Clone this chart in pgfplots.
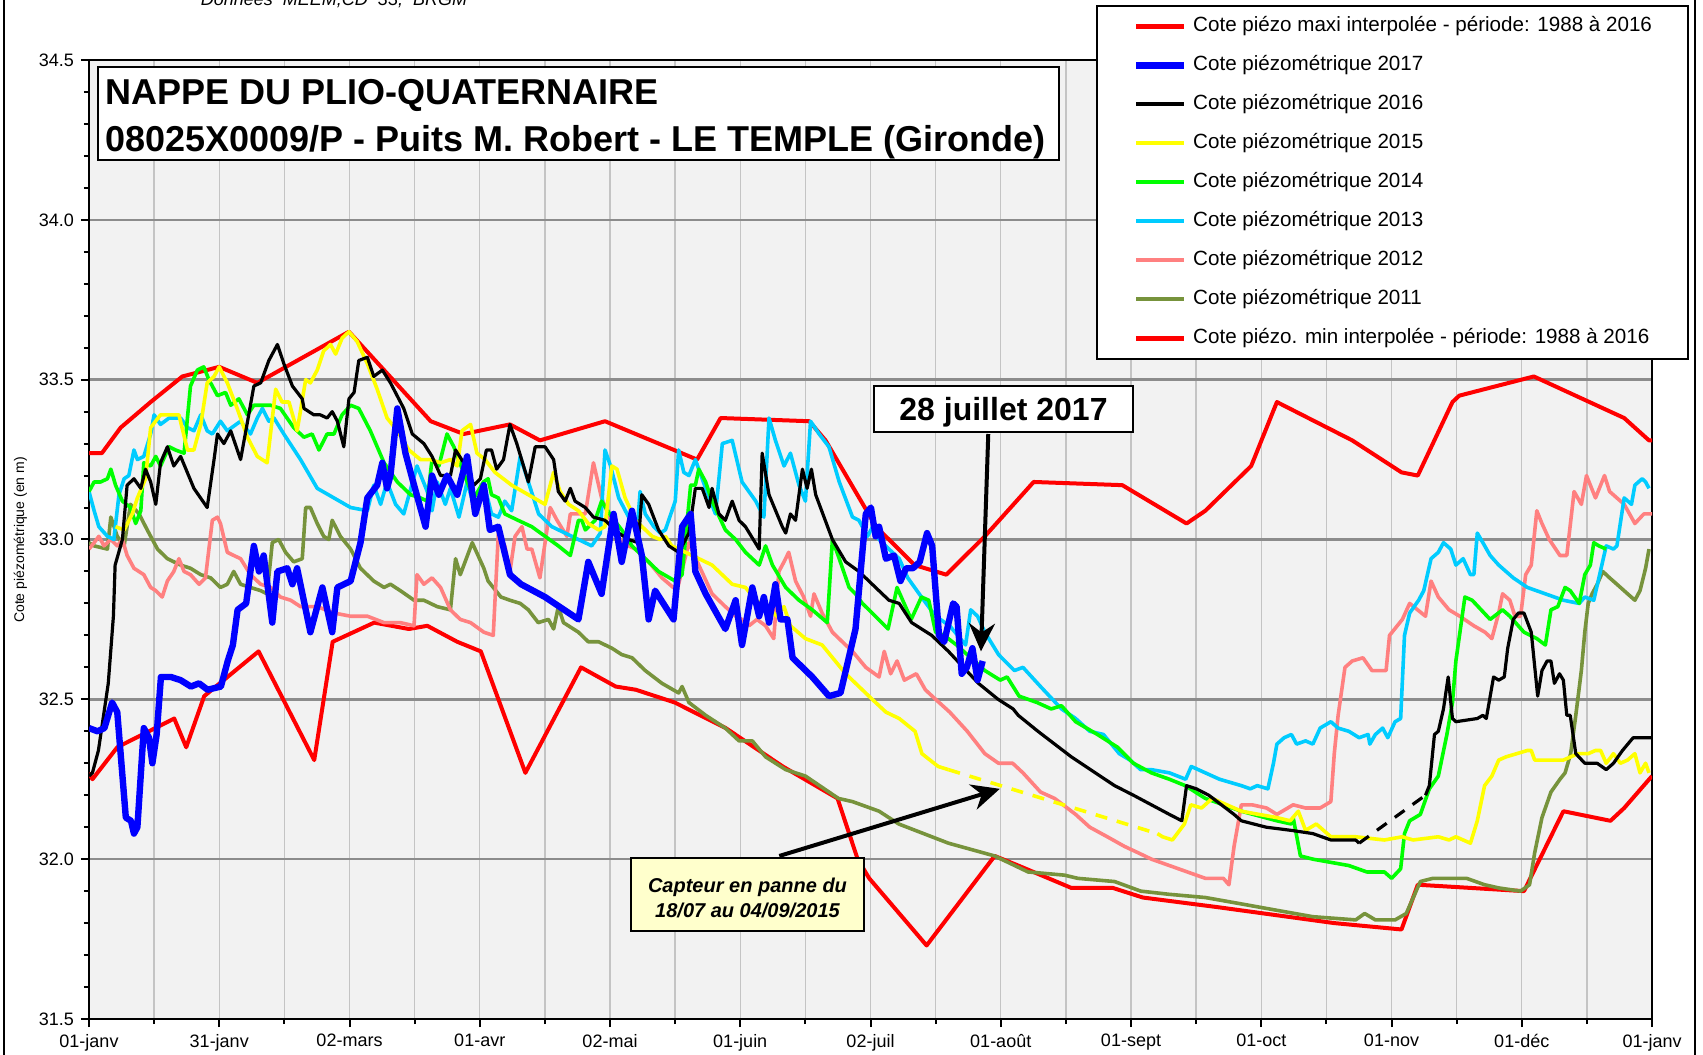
\documentclass[border=0pt]{standalone}
\usepackage{fontspec}
\setmainfont{Liberation Sans}
\usepackage{pgfplots}
\pgfplotsset{compat=1.18}
\usetikzlibrary{arrows.meta}

\definecolor{plotbg}{HTML}{F2F2F2}
\definecolor{hgrid}{HTML}{8C8C8C}
\definecolor{vgrid}{HTML}{C4C4C4}
\definecolor{c2017}{HTML}{0000FF}
\definecolor{c2015}{HTML}{FFFF00}
\definecolor{c2014}{HTML}{00FF00}
\definecolor{c2013}{HTML}{00CCFF}
\definecolor{c2012}{HTML}{FF8080}
\definecolor{c2011}{HTML}{77933C}
\definecolor{notebg}{HTML}{FFFFCC}

\begin{document}
\begin{tikzpicture}
\useasboundingbox (0,0) rectangle (851.5pt,527.5pt);
\begin{axis}[
  at={(44.5pt,18pt)}, anchor=south west,
  scale only axis, width=781.5pt, height=479.5pt,
  xmin=0, xmax=365, ymin=31.5, ymax=34.5,
  axis background/.style={fill=plotbg},
  axis line style={line width=1.3pt},
  xtick={0,30.4167,60.8333,91.25,121.6667,152.0833,182.5,212.9167,243.3333,273.75,304.1667,334.5833,365},
  xticklabels={01-janv,31-janv,02-mars,01-avr,02-mai,01-juin,02-juil,01-août,01-sept,01-oct,01-nov,01-déc,01-janv},
  minor xtick={0,15.2083,30.4167,45.625,60.8333,76.0417,91.25,106.4583,121.6667,136.875,152.0833,167.2917,182.5,197.7083,212.9167,228.125,243.3333,258.5417,273.75,288.9583,304.1667,319.375,334.5833,349.7917,365},
  ytick={31.5,32,32.5,33,33.5,34,34.5},
  minor y tick num=4,
  xminorgrids, ymajorgrids,
  minor grid style={vgrid, line width=0.7pt},
  major grid style={hgrid, line width=1.2pt},
  tick pos=left, tick align=outside,
  major tick length=4pt, minor tick length=2.5pt,
  tick style={black, line width=1pt},
  yticklabel style={/pgf/number format/.cd, fixed, fixed zerofill, precision=1},
  /pgf/number format/assume math mode=true,
  tick label style={font=\fontsize{9}{10}\selectfont},
  no markers,
  every axis plot/.append style={line join=round},
  legend image code/.code={\draw[#1] (0pt,0pt) -- (24pt,0pt);},
  legend cell align=left,
  legend style={at={(1.0237,1.0574)}, anchor=north east, draw=black, line width=1pt,
    fill=white, font=\fontsize{10.3}{12}\selectfont, inner xsep=18pt, inner ysep=5pt,
    row sep=9pt, column sep=3pt,
    nodes={inner sep=0pt, text height=8pt, text depth=2.5pt}},
]
\addlegendimage{red, line width=2.2pt}
\addlegendentry{Cote piézo maxi interpolée - période: 1988 à 2016}
\addlegendimage{c2017, line width=3.2pt}
\addlegendentry{Cote piézométrique 2017}
\addlegendimage{black, line width=2pt}
\addlegendentry{Cote piézométrique 2016}
\addlegendimage{c2015, line width=2pt}
\addlegendentry{Cote piézométrique 2015}
\addlegendimage{c2014, line width=2pt}
\addlegendentry{Cote piézométrique 2014}
\addlegendimage{c2013, line width=2pt}
\addlegendentry{Cote piézométrique 2013}
\addlegendimage{c2012, line width=2pt}
\addlegendentry{Cote piézométrique 2012}
\addlegendimage{c2011, line width=2pt}
\addlegendentry{Cote piézométrique 2011}
\addlegendimage{red, line width=2.2pt}
\addlegendentry{Cote piézo. min interpolée - période: 1988 à 2016}

% maxi interpolee
\addplot[red, line width=2pt, forget plot] coordinates {
(0,33.27)(3,33.27)(7.4,33.35)(14.4,33.43)(21.8,33.51)(30.4,33.54)(39.3,33.49)(50,33.57)(60.7,33.65)
(68.9,33.53)(79.8,33.37)(87.5,33.33)(98.3,33.36)(105.3,33.31)(120.5,33.37)(142,33.25)(147.5,33.38)
(168.2,33.37)(172,33.31)(183.8,33.04)(192.8,32.92)(200.2,32.89)(209.2,33.01)(220.6,33.18)(241.3,33.17)
(256.3,33.05)(260.7,33.09)(271.4,33.23)(277.4,33.43)(295,33.31)(306.5,33.21)(310.3,33.20)(318.4,33.43)
(320,33.45)(337.4,33.51)(358.5,33.38)(364.3,33.31)(365,33.31)};
% mini interpolee
\addplot[red, line width=2pt, forget plot] coordinates {
(0,32.27)(0.8,32.25)(6.6,32.35)(19.9,32.44)(22.7,32.35)(26.9,32.51)(39.6,32.65)(52.6,32.31)(56.9,32.68)
(66.6,32.74)(74.7,32.72)(79,32.73)(86,32.68)(91.5,32.65)(101.9,32.27)(114.9,32.60)(123,32.54)(127.7,32.53)
(136.8,32.49)(148.7,32.41)(162,32.29)(174.8,32.19)(179.5,32.0)(182.2,31.94)(195.6,31.73)(211.5,32.01)
(217,31.98)(229.4,31.91)(239.1,31.91)(246.1,31.88)(263.5,31.85)(290.8,31.80)(306.5,31.78)(310.3,31.92)
(335.1,31.90)(344.3,32.15)(355.3,32.12)(358.5,32.16)(365,32.26)};
% 2011
\addplot[c2011, line width=1.8pt, forget plot] coordinates {
(0,32.99)(1.2,32.98)(4.3,32.97)(5.1,33.07)(6.6,33.01)(8.2,32.98)(9.7,33.11)(11.7,33.08)(13.6,33.03)(16,32.97)
(18.3,32.94)(21.4,32.92)(23.7,32.91)(26.1,32.89)(28.4,32.88)(30.7,32.85)(32.3,32.86)(33.8,32.90)(35.4,32.86)
(37.7,32.85)(40.1,32.84)(41.6,32.83)(42.8,32.99)(44.3,33.0)(45.9,32.96)(47.8,32.93)(49.8,32.94)(50.6,33.10)
(51.7,33.10)(53.3,33.05)(54.8,33.01)(56,33.0)(56.8,33.06)(58.7,33.01)(61.1,32.97)(63.4,32.91)(66.5,32.87)
(68.9,32.85)(70.4,32.86)(72.7,32.84)(75.9,32.81)(78.2,32.81)(81.3,32.79)(84.4,32.78)(85.6,32.94)(86.7,32.89)
(89.5,32.99)(92.2,32.91)(93.2,32.87)(96.2,32.82)(98.3,32.81)(100.7,32.80)(102.6,32.78)(104.9,32.74)(107.3,32.75)
(108.5,32.72)(109.6,32.79)(110.8,32.74)(114.3,32.71)(116.6,32.68)(119,32.68)(122.1,32.66)(124.4,32.64)
(126.8,32.63)(129.9,32.59)(133.8,32.55)(137.7,32.52)(138.5,32.54)(140.1,32.49)(144,32.45)(148.6,32.41)
(151.8,32.37)(154.9,32.37)(158,32.32)(162.7,32.28)(167.3,32.26)(172.8,32.21)(175,32.19)(178.3,32.18)
(184.5,32.15)(189.1,32.11)(200.7,32.05)(211.5,32.01)(219.3,31.96)(227.8,31.95)(230.9,31.94)(239.5,31.93)
(245.6,31.90)(252.3,31.89)(260.7,31.88)(269.1,31.86)(277.4,31.84)(285.8,31.82)(295.8,31.81)(297.9,31.83)
(300.4,31.81)(305,31.81)(307.6,31.83)(310.9,31.93)(313.8,31.94)(321.7,31.94)(325.9,31.92)(329.2,31.91)
(334.3,31.90)(336.4,31.92)(337.6,32.02)(339.3,32.13)(341.4,32.21)(343.5,32.25)(344.7,32.27)(346,32.33)
(347.2,32.45)(348.5,32.59)(349.3,32.71)(350.1,32.80)(351,32.83)(352.2,32.86)(353.5,32.90)(355.1,32.88)
(356.8,32.86)(359.3,32.83)(361,32.81)(362.2,32.84)(363.5,32.91)(364.3,32.97)};
% 2012
\addplot[c2012, line width=1.8pt, forget plot] coordinates {
(0,32.97)(1.2,32.99)(2.3,33.01)(3.5,32.98)(5.1,33.0)(6.6,32.98)(7.8,33.0)(8.9,32.95)(10.5,32.91)(12.8,32.89)
(14.4,32.85)(15.6,32.84)(17.1,32.82)(18.3,32.87)(19.8,32.90)(21,32.94)(22.2,32.90)(23.7,32.89)(25.7,32.86)
(27.2,32.88)(28.8,33.06)(30,33.07)(30.7,33.05)(32.3,32.96)(33.8,32.95)(35.4,32.94)(37.7,32.89)(40.1,32.86)
(42.4,32.85)(44.7,32.82)(47.1,32.81)(49.4,32.79)(53.3,32.79)(57.2,32.77)(61.1,32.76)(65,32.76)(68.9,32.74)
(72.7,32.74)(75.9,32.73)(76.6,32.89)(78.2,32.86)(80.1,32.88)(82.1,32.85)(84.4,32.78)(86.7,32.75)(89.1,32.74)
(92.2,32.71)(94.4,32.70)(95.6,33.02)(97.1,32.98)(98.3,32.90)(99.5,33.01)(101.1,33.04)(102.3,32.97)(103.4,32.97)
(105.3,32.88)(107.7,33.10)(109.3,33.06)(111.6,33.01)(112.4,33.08)(114.3,33.08)(115.9,33.08)(117.8,33.24)
(119.7,33.13)(122.1,33.05)(124.4,32.99)(127.6,32.97)(130.7,32.93)(133.8,32.88)(137.3,32.84)(140.1,32.99)
(142.4,32.92)(145.5,32.83)(148.6,32.79)(151,32.76)(152.5,32.75)(154.1,32.73)(156,32.75)(158,32.73)
(159.9,32.69)(161.1,32.90)(162.3,32.93)(163.4,32.96)(165,32.87)(166.9,32.82)(168.5,32.76)(169.3,32.83)
(171.2,32.77)(173.6,32.71)(176.7,32.67)(178.3,32.65)(181.4,32.60)(184.5,32.57)(185.7,32.65)(187.2,32.58)
(188.7,32.62)(190.4,32.56)(193.2,32.58)(195.3,32.53)(197.7,32.50)(201,32.46)(205.1,32.40)(209.2,32.33)
(212.4,32.30)(215.7,32.30)(218.1,32.27)(222.2,32.21)(225.5,32.19)(230.4,32.14)(233.7,32.10)(237.8,32.07)
(241.8,32.04)(245,32.02)(248.1,32.0)(252.3,31.98)(256.5,31.96)(260.7,31.94)(264.9,31.94)(266.2,31.92)
(267.4,32.04)(269.1,32.17)(271.6,32.17)(275,32.16)(277.4,32.14)(281.2,32.17)(284.1,32.16)(287.5,32.16)
(290,32.18)(290.8,32.33)(291.7,32.45)(293.3,32.60)(295,32.62)(297.5,32.63)(299.6,32.59)(302.9,32.59)
(303.7,32.70)(306.7,32.75)(308.4,32.80)(312.1,32.76)(313.4,32.87)(315.1,32.82)(317.6,32.78)(320.1,32.76)
(323.4,32.73)(326,32.71)(327.6,32.69)(329.2,32.77)(330.1,32.83)(331.8,32.81)(333,32.76)(334.3,32.76)
(335.5,32.89)(336.8,32.92)(338.1,33.09)(339.3,33.05)(341,33.0)(343.5,32.95)(345.1,32.95)(346.8,33.15)
(348.5,33.11)(349.7,33.20)(351.8,33.13)(353.9,33.20)(355.1,33.15)(358.5,33.11)(361,33.05)(363.1,33.08)(365,33.08)};
% 2013
\addplot[c2013, line width=1.8pt, forget plot] coordinates {
(0,33.15)(1.2,33.09)(2.3,33.04)(4.3,33.01)(5.8,33.0)(7,33.14)(8.2,33.19)(9.3,33.20)(10.5,33.28)(11.3,33.25)
(12.8,33.26)(14.4,33.33)(15.2,33.39)(16.7,33.36)(18.7,33.38)(21.4,33.38)(23,33.35)(24.5,33.34)(26.1,33.39)
(27.6,33.34)(28.8,33.33)(30.7,33.37)(32.3,33.34)(35.4,33.37)(37.7,33.33)(39.3,33.38)(40.5,33.41)(42,33.37)
(43.2,33.38)(45.5,33.33)(49.4,33.25)(53.3,33.16)(57.2,33.13)(61.1,33.10)(65,33.09)(66.5,33.17)(68.1,33.11)
(69.6,33.18)(71.6,33.11)(73.5,33.08)(76.6,33.23)(79,33.15)(80.1,33.09)(81.3,33.18)(83.2,33.11)(84.4,33.16)
(86.4,33.07)(88.3,33.18)(90.2,33.09)(92.5,33.16)(94,33.08)(95.6,33.07)(97.1,33.12)(98.7,33.09)(100.7,33.26)
(102.6,33.18)(105,33.08)(108.1,33.04)(111.2,33.02)(114.3,33.0)(117.4,32.98)(119.4,33.02)(120.5,33.28)
(121.8,33.23)(123.7,33.13)(126.8,33.05)(128,33.03)(128.7,33.15)(129.9,33.08)(131.9,33.04)(133.4,33.02)
(134.6,33.03)(136.9,33.12)(137.7,33.28)(138.9,33.21)(140.1,33.20)(141.6,33.25)(144,33.16)(146.3,33.08)
(147.9,33.30)(150.2,33.31)(152.5,33.18)(155.7,33.12)(157.6,33.07)(158.8,33.38)(160.3,33.31)(162.3,33.23)
(163.8,33.27)(165.8,33.17)(167.3,33.12)(168.5,33.37)(170.5,33.33)(172.8,33.29)(175.2,33.18)(178.3,33.07)
(179.8,33.06)(181.8,33.01)(183,33.04)(184.5,33.0)(186.8,32.97)(189.2,32.94)(191.2,32.88)(194.4,32.82)
(197.7,32.76)(201,32.73)(204.7,32.67)(205.9,32.78)(207.5,32.76)(209.2,32.71)(212.4,32.64)(216.1,32.59)
(218.1,32.60)(222.2,32.54)(227.1,32.47)(230.4,32.44)(233.7,32.40)(236.9,32.39)(240.6,32.33)(243.1,32.31)
(245.6,32.28)(248.1,32.28)(252.3,32.27)(256.1,32.25)(257.4,32.29)(260.7,32.27)(264,32.25)(269.1,32.23)
(271.2,32.22)(272.8,32.23)(275.3,32.22)(276.6,32.30)(277.4,32.36)(279.1,32.38)(280.8,32.39)(282,32.36)
(284.1,32.37)(285.8,32.36)(287.5,32.41)(290,32.43)(291.7,32.41)(294.2,32.40)(296.6,32.38)(298.7,32.39)
(299.1,32.36)(300.4,32.39)(302.1,32.41)(303.3,32.38)(305,32.43)(306.3,32.44)(307.2,32.70)(308.4,32.77)
(310.5,32.81)(311.7,32.84)(313.4,32.94)(315.1,32.96)(316.3,32.99)(318,32.97)(319.2,32.92)(320.9,32.94)
(322.6,32.89)(323.4,32.89)(324.2,33.02)(325.5,32.99)(327.2,32.95)(329.2,32.92)(332.6,32.88)(335.9,32.85)
(340.1,32.83)(344.3,32.81)(348,32.80)(349.3,32.82)(351.4,32.81)(352.6,32.88)(354.3,32.98)(356,32.97)
(356.8,32.98)(358.5,33.13)(360.2,33.11)(361,33.17)(362.7,33.19)(363.5,33.18)(364.3,33.16)};
% 2014
\addplot[c2014, line width=1.8pt, forget plot] coordinates {
(0,33.15)(1.2,33.18)(2.7,33.18)(4.3,33.19)(5.1,33.22)(6.2,33.17)(7.8,33.12)(9.7,33.10)(10.9,33.05)(12.1,33.09)
(12.8,33.24)(14.4,33.23)(15.6,33.26)(16.7,33.23)(18.7,33.29)(20.2,33.28)(22.2,33.27)(23.7,33.48)(25.3,33.53)
(26.8,33.54)(28,33.50)(30,33.45)(31.9,33.46)(33.1,33.42)(35,33.44)(37,33.39)(38.5,33.42)(40.1,33.42)
(42.4,33.42)(44.7,33.41)(47.8,33.35)(50.2,33.32)(52.1,33.33)(53.7,33.28)(55.6,33.33)(57.2,33.33)(59.1,33.39)
(61.1,33.42)(63,33.41)(65.7,33.34)(68.9,33.24)(72,33.18)(75.1,33.14)(77.4,33.13)(79,33.12)(80.1,33.25)
(81.7,33.23)(83.6,33.33)(85.2,33.29)(88.3,33.18)(89.9,33.13)(92.1,33.18)(93.2,33.19)(94,33.14)(95.6,33.13)
(97.1,33.08)(100.2,33.06)(103.4,33.04)(106.5,33.01)(109.6,32.98)(112.4,32.95)(114.3,33.06)(115.1,33.06)
(115.9,33.03)(118.2,33.06)(119.7,33.12)(122.1,33.07)(124.4,33.03)(126.8,32.98)(129.9,32.94)(133,32.90)
(136.9,32.87)(138.5,32.89)(139.7,33.06)(140.5,33.17)(141.6,33.17)(142.4,33.22)(144,33.18)(145.5,33.12)
(148.6,33.03)(151,33.0)(153.3,32.96)(156.5,32.92)(158,32.98)(159.6,32.92)(162.7,32.85)(165.8,32.81)
(168.9,32.78)(172.4,32.74)(173.6,33.0)(175.2,32.94)(177.5,32.85)(179,32.83)(180.6,32.80)(182.9,32.77)
(186.6,32.72)(188.7,32.85)(192,32.75)(194.4,32.82)(196.1,32.81)(197.7,32.71)(199.7,32.70)(202.6,32.67)
(205.9,32.63)(209.2,32.59)(212.8,32.56)(214.4,32.57)(217.2,32.51)(221.4,32.49)(224.7,32.47)(227.1,32.48)
(230.4,32.43)(235.5,32.39)(240.2,32.35)(243.9,32.30)(248.1,32.27)(252.3,32.25)(256,32.23)(260.7,32.19)
(269.1,32.15)(277.4,32.12)(280.8,32.11)(281.2,32.13)(282.9,32.01)(285.8,32.0)(290,31.99)(294.2,31.98)
(298.4,31.96)(302.5,31.96)(304.2,31.94)(306.3,31.97)(307.2,32.08)(308.4,32.12)(310.9,32.14)(313,32.22)
(315.1,32.26)(317.1,32.39)(318.4,32.49)(319.2,32.62)(321.3,32.82)(323,32.81)(327.2,32.75)(330.1,32.78)
(331.8,32.76)(335.1,32.71)(338.1,32.69)(340.1,32.67)(341.4,32.78)(343,32.79)(344.7,32.85)(345.9,32.84)
(348,32.80)(349.3,32.89)(350.6,32.92)(351.4,32.99)(352.6,32.98)(354.3,32.97)};
% 2015
\addplot[c2015, line width=1.8pt, forget plot] coordinates {
(6.2,33.04)(8.2,33.03)(10.1,33.08)(11.3,33.13)(13.2,33.19)(14.4,33.35)(16.7,33.39)(19.1,33.39)(21,33.39)
(23,33.28)(24.5,33.28)(26.1,33.36)(27.6,33.49)(29.2,33.51)(30.4,33.54)(32.3,33.49)(34.6,33.41)(37,33.32)
(39.3,33.26)(41.6,33.24)(43.6,33.47)(45.1,33.43)(46.7,33.43)(48.6,33.34)(50.6,33.50)(51.7,33.49)(53.3,33.53)
(54.8,33.59)(56.4,33.61)(57.6,33.58)(59.1,33.63)(60.7,33.65)(62.6,33.62)(65,33.55)(67.3,33.47)(69.6,33.38)
(72,33.34)(74.7,33.28)(77.4,33.25)(79.7,33.25)(82.1,33.24)(84.4,33.25)(86,33.23)(87.1,33.34)(89.1,33.36)
(90.6,33.27)(92.5,33.25)(94.8,33.21)(98.7,33.17)(102.6,33.14)(106.5,33.11)(108.5,33.21)(110,33.15)(112,33.11)
(114.3,33.09)(116.6,33.05)(119,33.03)(120.5,33.04)(122.1,33.23)(123.3,33.22)(125.2,33.13)(127.6,33.06)
(131.5,33.01)(133.4,33.0)(134.6,33.01)(136.1,32.98)(139.3,32.96)(142.4,32.94)(145.5,32.92)(150.2,32.86)
(153.3,32.85)(155.7,32.81)(158,32.79)(160.7,32.76)(162.3,32.79)(163.8,32.73)(167.3,32.69)(171.2,32.67)
(176.7,32.58)(179.8,32.54)(182.9,32.50)(186.1,32.46)(189.2,32.44)(192.9,32.40)(194.5,32.33)(198.3,32.29)(200.7,32.28)};
\addplot[c2015, line width=1.8pt, dash pattern=on 6pt off 5pt, forget plot] coordinates {
(200.7,32.28)(249.5,32.08)};
\addplot[c2015, line width=1.8pt, forget plot] coordinates {
(249.5,32.08)(250.7,32.07)(253,32.06)(255.8,32.11)(257.3,32.17)(259.8,32.16)(262.3,32.19)(265.7,32.17)
(269.1,32.15)(273.2,32.14)(277.4,32.13)(280.5,32.12)(282.4,32.15)(284.1,32.09)(286.6,32.11)(290,32.07)
(295.8,32.07)(302.5,32.06)(306.7,32.07)(309.2,32.06)(315.1,32.07)(317.6,32.06)(319.2,32.07)(322.6,32.05)
(324.2,32.12)(325.9,32.23)(327.6,32.26)(329.2,32.31)(330.9,32.32)(333.4,32.33)(335.9,32.34)(336.8,32.34)
(337.6,32.31)(341,32.31)(344.3,32.31)(347.7,32.33)(350.1,32.33)(351.8,32.34)(353,32.34)(354.3,32.30)
(356,32.33)(357.6,32.30)(359.3,32.31)(361,32.33)(362.2,32.27)(363.5,32.30)(364.3,32.27)};
% 2016
\addplot[black, line width=1.6pt, forget plot] coordinates {
(0,32.26)(0.8,32.27)(2.2,32.34)(4.5,32.55)(5.7,32.76)(6.1,32.92)(7.8,33.0)(8.9,33.17)(10.5,33.19)(12.1,33.16)
(13.2,33.22)(14.4,33.18)(15.6,33.11)(16.7,33.24)(18.3,33.29)(19.8,33.23)(21.4,33.26)(24.5,33.16)(27.6,33.10)
(29.2,33.25)(30,33.33)(31.5,33.30)(33.1,33.34)(35.4,33.25)(36.9,33.36)(38.5,33.48)(40.1,33.49)(42,33.56)
(44,33.61)(45.5,33.55)(47.5,33.48)(49.8,33.44)(50.2,33.41)(52.5,33.39)(54,33.39)(55.6,33.38)(56.8,33.40)
(58,33.37)(59.5,33.29)(60.7,33.44)(61.9,33.46)(63,33.56)(65,33.57)(66.5,33.51)(68.5,33.53)(70.4,33.49)
(73.5,33.41)(75.5,33.33)(78.2,33.30)(80.1,33.26)(82.1,33.20)(84.4,33.20)(85.6,33.28)(87.5,33.24)(89.9,33.17)
(91.4,33.19)(92.8,33.28)(94,33.28)(95.2,33.22)(96.8,33.25)(98.3,33.36)(99.9,33.30)(102.6,33.18)(104.2,33.29)
(106.5,33.29)(108.5,33.25)(109.6,33.15)(111.2,33.12)(112.4,33.16)(113.5,33.12)(115.9,33.10)(117.8,33.07)
(120.5,33.06)(123.7,33.02)(126,33.0)(128.3,32.99)(129.1,33.14)(130.7,33.11)(133,33.03)(135.4,32.98)
(137.7,32.96)(140.1,33.02)(141.6,33.16)(143.2,33.16)(144.8,33.10)(145.5,33.16)(147.1,33.08)(148.6,33.06)
(150.2,33.12)(151.8,33.06)(153.3,33.04)(156.5,32.97)(157.2,33.27)(158.8,33.14)(161.9,33.04)(162.7,33.02)
(163.8,33.08)(165,33.06)(166.6,33.22)(167.7,33.16)(168.7,33.22)(169.7,33.14)(173.6,33.0)(176.7,32.93)
(179.8,32.90)(182.9,32.86)(186.8,32.81)(189.2,32.80)(192.1,32.74)(196.8,32.70)(200.7,32.65)(207.7,32.55)
(212.3,32.50)(215.8,32.47)(217,32.45)(221.6,32.40)(229.4,32.32)(239.5,32.23)(243.9,32.20)(248.1,32.17)
(252.3,32.14)(255.2,32.12)(256.3,32.23)(258.6,32.22)(261.5,32.20)(267.4,32.14)(269.1,32.12)(274.9,32.10)
(280.8,32.09)(285.8,32.08)(290,32.06)(295.8,32.06)(296.6,32.05)};
\addplot[black, line width=1.6pt, dash pattern=on 6pt off 5pt, forget plot] coordinates {
(296.6,32.05)(312.1,32.20)};
\addplot[black, line width=1.6pt, forget plot] coordinates {
(312.1,32.20)(313,32.23)(314.2,32.39)(315.1,32.40)(316.3,32.47)(317.4,32.57)(318.4,32.44)(319.2,32.43)
(324.2,32.44)(325.5,32.45)(326.3,32.44)(328,32.57)(329.2,32.56)(330.5,32.57)(331.3,32.66)(332.6,32.75)
(333.8,32.77)(335.1,32.77)(336.8,32.71)(338.3,32.51)(339.3,32.59)(340.5,32.62)(341.4,32.62)(342.2,32.55)
(343.4,32.58)(344.3,32.56)(345.1,32.45)(345.9,32.45)(347.2,32.33)(349.3,32.30)(352.2,32.30)(354.3,32.28)
(356,32.30)(358.1,32.34)(360.6,32.38)(365,32.38)};
% 2017
\addplot[c2017, line width=3.2pt, forget plot] coordinates {
(0,32.41)(2,32.40)(3.6,32.41)(5.4,32.49)(6.6,32.46)(8.6,32.13)(9.8,32.12)(10.5,32.08)(11.3,32.10)(12.8,32.41)
(14.0,32.38)(14.8,32.30)(15.8,32.39)(16.8,32.57)(19.1,32.57)(21.4,32.56)(23.8,32.54)(25.7,32.55)(27.7,32.53)
(30.8,32.54)(32.4,32.62)(33.6,32.67)(34.7,32.78)(36.7,32.80)(38.5,32.98)(39.7,32.90)(40.8,32.95)(42.8,32.74)
(44,32.90)(46.3,32.91)(47.5,32.86)(48.6,32.91)(51.7,32.71)(54.5,32.85)(56.8,32.71)(58,32.85)(61.1,32.87)
(63.4,32.99)(65,33.13)(67.3,33.17)(68.5,33.24)(69.6,33.16)(70.4,33.20)(72,33.41)(73.9,33.27)(75.5,33.19)
(78.6,33.04)(80.1,33.20)(81.7,33.14)(83.6,33.20)(86,33.14)(88.3,33.26)(90.2,33.08)(92.2,33.17)(93.6,33.03)
(95.6,33.04)(98.3,32.89)(100.9,32.86)(106.5,32.82)(114.3,32.75)(116.6,32.93)(119.7,32.83)(122.5,33.08)
(124.4,32.93)(126.8,33.09)(129.1,32.95)(130.7,32.75)(132.2,32.84)(136.5,32.75)(138.5,33.04)(140.5,33.08)
(141.6,32.90)(144,32.83)(148.6,32.72)(151,32.81)(152.5,32.67)(154.9,32.85)(156.5,32.76)(157.6,32.82)
(158.8,32.74)(160.3,32.86)(161.5,32.75)(163.1,32.75)(164.3,32.63)(168.9,32.57)(172.8,32.51)(175.5,32.52)
(179,32.72)(181.4,33.08)(182.6,33.10)(183.7,33.01)(184.5,33.04)(186.1,32.94)(188,32.95)(189.5,32.87)
(190.8,32.91)(192.4,32.91)(194,32.93)(195.7,33.02)(196.9,32.98)(198.5,32.70)(199.7,32.68)(201.8,32.80)
(202.6,32.79)(203.8,32.58)(205,32.60)(206.3,32.66)(207.5,32.56)(208.7,32.62)};

\draw[line width=2pt, -{Stealth[length=14pt,width=13pt]}] (axis cs:210,33.33) -- (axis cs:208.3,32.65);
\draw[line width=2pt, -{Stealth[length=14pt,width=13pt]}] (axis cs:161.2,32.01) -- (axis cs:212.7,32.22);
\end{axis}

\begin{scope}[x=0.5pt, y=-0.5pt, yshift=527.5pt]
\draw[line width=0.8pt] (4,-20) -- (4,1080);
\draw[line width=0.8pt] (1695,-20) -- (1695,1080);
\node[anchor=base, inner sep=0pt, font=\fontsize{9}{10}\selectfont\itshape] at (334,6) {Données~ MEEM,CD~ 33,~ BRGM};
\node[rotate=90, inner sep=0pt, font=\fontsize{7}{8}\selectfont] at (20.5,540) {Cote piézométrique (en m)};
\draw[line width=1pt, fill=white] (98,67) rectangle (1059,160);
\node[anchor=base west, inner sep=0pt, font=\fontsize{18}{20}\selectfont\bfseries] at (105,105) {NAPPE DU PLIO-QUATERNAIRE};
\node[anchor=base west, inner sep=0pt, font=\fontsize{18}{20}\selectfont\bfseries] at (105,152) {08025X0009/P - Puits M. Robert - LE TEMPLE (Gironde)};
\draw[line width=1pt, fill=white] (874,386) rectangle (1133,432);
\node[anchor=base, inner sep=0pt, font=\fontsize{16}{18}\selectfont\bfseries] at (1003.5,421) {28 juillet 2017};
\draw[line width=1pt, fill=notebg] (631,858) rectangle (864,931);
\node[anchor=base, inner sep=0pt, font=\fontsize{10}{12}\selectfont\bfseries\itshape] at (747.5,893) {Capteur en panne du};
\node[anchor=base, inner sep=0pt, font=\fontsize{10}{12}\selectfont\bfseries\itshape] at (747.5,918) {18/07 au 04/09/2015};
\end{scope}
\end{tikzpicture}
\end{document}
